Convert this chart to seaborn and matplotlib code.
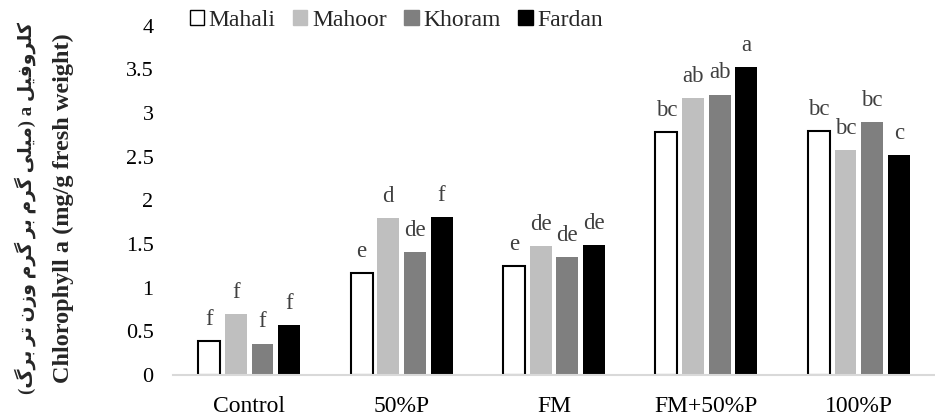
import numpy as np
import pandas as pd
import matplotlib
matplotlib.use("Agg")
import matplotlib.pyplot as plt
import seaborn as sns
from matplotlib.patches import Patch

# data
treatments = ["Control", "50%P", "FM", "FM+50%P", "100%P"]
cultivars = ["Mahali", "Mahoor", "Khoram", "Fardan"]
mahali = [0.39, 1.17, 1.25, 2.78, 2.79]
mahoor = [0.70, 1.80, 1.48, 3.17, 2.57]
khoram = [0.36, 1.41, 1.35, 3.21, 2.90]
fardan = [0.57, 1.81, 1.49, 3.52, 2.52]
letters_mahali = ["f", "e", "e", "bc", "bc"]
letters_mahoor = ["f", "d", "de", "ab", "bc"]
letters_khoram = ["f", "de", "de", "ab", "bc"]
letters_fardan = ["f", "f", "de", "a", "c"]
yticks = [0, 0.5, 1, 1.5, 2, 2.5, 3, 3.5, 4]

colors = ["#ffffff", "#bfbfbf", "#7f7f7f", "#000000"]

# Persian label: matplotlib has no Arabic shaping, so do it by hand
FORMS = {
    "ب": (0xFE8F, 0xFE90, 0xFE91, 0xFE92),
    "ت": (0xFE95, 0xFE96, 0xFE97, 0xFE98),
    "ر": (0xFEAD, 0xFEAE),
    "ز": (0xFEAF, 0xFEB0),
    "ف": (0xFED1, 0xFED2, 0xFED3, 0xFED4),
    "ل": (0xFEDD, 0xFEDE, 0xFEDF, 0xFEE0),
    "م": (0xFEE1, 0xFEE2, 0xFEE3, 0xFEE4),
    "ن": (0xFEE5, 0xFEE6, 0xFEE7, 0xFEE8),
    "و": (0xFEED, 0xFEEE),
    "ک": (0xFB8E, 0xFB8F, 0xFB90, 0xFB91),
    "گ": (0xFB92, 0xFB93, 0xFB94, 0xFB95),
    "ی": (0xFBFC, 0xFBFD, 0xFBFE, 0xFBFF),
}


def shape(word):
    out = []
    for i, ch in enumerate(word):
        f = FORMS[ch]
        prev = i > 0 and len(FORMS[word[i - 1]]) == 4
        nxt = i < len(word) - 1 and len(f) == 4
        if prev and nxt:
            out.append(chr(f[3]))
        elif prev:
            out.append(chr(f[1]))
        elif nxt:
            out.append(chr(f[2]))
        else:
            out.append(chr(f[0]))
    return "".join(reversed(out))


# logical: "کلروفیل a (میلی گرم بر گرم وزن تر برگ)"
fa_words = ["برگ", "تر", "وزن", "گرم", "بر", "گرم", "میلی"]
persian = "(" + " ".join(shape(w) for w in fa_words) + ") a " + shape("کلروفیل")
english = "Chlorophyll a (mg/g fresh weight)"

rows = []
for name, vals in zip(cultivars, [mahali, mahoor, khoram, fardan]):
    for t, v in zip(treatments, vals):
        rows.append({"treatment": t, "cultivar": name, "value": v})
df = pd.DataFrame(rows)

sns.set_style("white")
plt.rcParams["font.family"] = ["Liberation Serif", "DejaVu Sans"]

fig = plt.figure(figsize=(9.35, 4.16), dpi=100)
ax = fig.add_axes([0.185, 0.0986, 0.815, 0.84])

sns.barplot(data=df, x="treatment", y="value", hue="cultivar",
            order=treatments, hue_order=cultivars, palette=colors,
            width=0.70, gap=0.18, errorbar=None, legend=False, ax=ax)

all_letters = [letters_mahali, letters_mahoor, letters_khoram, letters_fardan]
for i, cont in enumerate(ax.containers):
    for p in cont:
        if i == 0:
            p.set_edgecolor("black")
            p.set_linewidth(1.5)
        else:
            p.set_edgecolor("none")
    ax.bar_label(cont, labels=all_letters[i], padding=8, color="#404040",
                 fontsize=16.5)

ax.set_ylim(0, 4)
ax.set_xlim(-0.5, 4.5)
ax.set_yticks(yticks)
ax.set_yticklabels([f"{t:g}" for t in yticks])
ax.tick_params(axis="both", length=0, labelsize=16, colors="black")
ax.tick_params(axis="y", pad=14)
ax.tick_params(axis="x", pad=15, labelsize=17)
ax.set_xlabel("")
ax.set_ylabel("")

# two-line y label, Persian on the outside
fig.text(0.028, 0.50, persian, rotation=90, ha="center", va="center",
         fontsize=13.5, fontweight="bold")
fig.text(0.068, 0.50, english, rotation=90, ha="center", va="center",
         fontsize=17.5, fontweight="bold")

for s in ["top", "right", "left"]:
    ax.spines[s].set_visible(False)
ax.spines["bottom"].set_color("#d9d9d9")
ax.spines["bottom"].set_linewidth(1.5)

handles = [Patch(facecolor=c, edgecolor="black" if c == "#ffffff" else c,
                 linewidth=1.0) for c in colors]
fig.legend(handles, cultivars, ncol=4, frameon=False, loc="upper left",
           bbox_to_anchor=(0.18, 1.028), fontsize=17, handlelength=0.6,
           handleheight=0.6, handletextpad=0.2, columnspacing=0.75)

fig.savefig("out.png", dpi=100)
